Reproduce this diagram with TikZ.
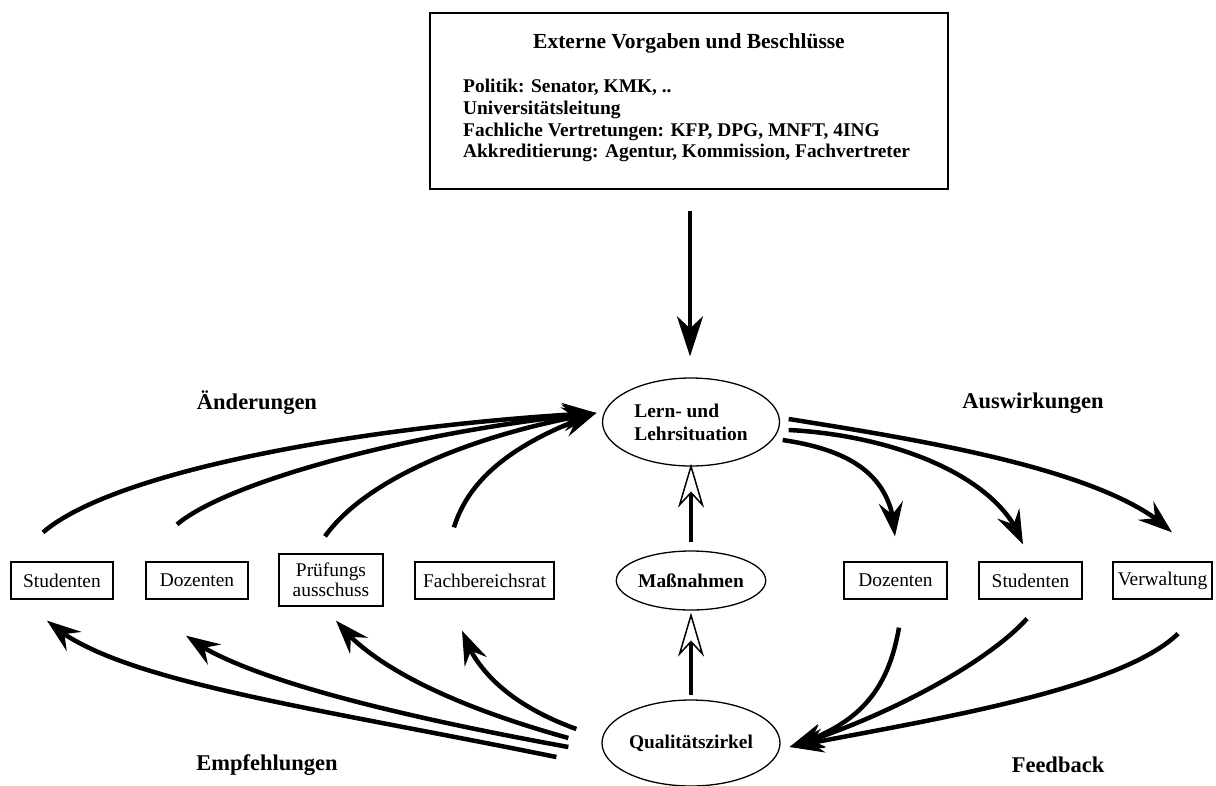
\documentclass[tikz,border=0pt]{standalone}
\usepackage{fontspec}
\setmainfont{Liberation Serif}
\usetikzlibrary{arrows.meta,shapes.geometric,bending}
\begin{document}
\begin{tikzpicture}[x=1pt,y=-1pt,
  box/.style={draw, line width=1.3pt, rectangle, minimum height=37pt, inner sep=2pt,
    font=\fontsize{19.4}{20}\selectfont, align=center},
  ell/.style={draw, line width=1.3pt, ellipse, inner sep=0pt,
    font=\bfseries\fontsize{19.4}{23}\selectfont, align=left},
  lab/.style={font=\bfseries\fontsize{22.5}{26}\selectfont},
  listline/.style={anchor=base west, inner sep=0pt, font=\bfseries\fontsize{19.4}{22}\selectfont},
  conn/.style={line width=4.5pt, -{Stealth[length=34pt,width=24pt,inset=12pt]}},
  hollow/.style={line width=4.5pt, -{Stealth[open,fill=white,length=44pt,width=26pt,inset=14pt,line width=1.5pt]}},
]
\useasboundingbox (0,0) rectangle (1216,785);

% top box
\node[draw, line width=1.4pt, minimum width=518pt, minimum height=176pt, inner sep=0pt] (ext) at (689,101) {};
\node[anchor=base, inner sep=0pt, font=\bfseries\fontsize{21.5}{24}\selectfont] (title) at (689,48) {Externe Vorgaben und Beschlüsse};
\node[listline] (l1) at (463,92) {Politik: Senator, KMK, ..};
\node[listline] (l2) at (463,114) {Universitätsleitung};
\node[listline] (l3) at (463,136) {Fachliche Vertretungen: KFP, DPG, MNFT, 4ING};
\node[listline] (l4) at (463,157) {Akkreditierung: Agentur, Kommission, Fachvertreter};

% ellipses
\node[ell, minimum width=177pt, minimum height=88pt] (lern) at (691,422) {Lern- und\\Lehrsituation};
\node[ell, minimum width=148pt, minimum height=59pt] (mass) at (691,580.5) {Maßnahmen};
\node[ell, minimum width=178pt, minimum height=86pt] (qz) at (691,743) {Qualitätszirkel};

% boxes left
\node[box, minimum width=102pt] (sL) at (62,580.5) {Studenten};
\node[box, minimum width=102pt] (dL) at (197,580.5) {Dozenten};
\node[box, minimum width=104pt, minimum height=52pt] (pL) at (331,580) {Prüfungs\\ausschuss};
\node[box, minimum width=139pt] (fL) at (484.5,580.5) {Fachbereichsrat};
% boxes right
\node[box, minimum width=103pt] (dR) at (895.5,580.5) {Dozenten};
\node[box, minimum width=103pt] (sR) at (1030.5,580.5) {Studenten};
\node[box, minimum width=99pt] (vR) at (1162.5,580.5) {Verwaltung};

% labels
\node[lab] (aend) at (257,403) {Änderungen};
\node[lab] (ausw) at (1033,403) {Auswirkungen};
\node[lab] (empf) at (267,765) {Empfehlungen};
\node[lab] (feed) at (1058,765) {Feedback};

% down arrow
\draw[line width=4.5pt, -{Stealth[length=40pt,width=26pt,inset=12pt]}]
  ([shift={(1,21)}]ext.south) -- ([shift={(-1,-21)}]lern.north);

% hollow arrows
\draw[hollow] ([shift={(0,-8)}]mass.north) -- ([shift={(0,-3)}]lern.south);
\draw[hollow] ([shift={(0,-4)}]qz.north) -- ([shift={(0,2)}]mass.south);

% Aenderungen
\draw[conn] ([shift={(-19,-29)}]sL.north) .. controls (115,470) and (370,425) .. ([shift={(-5.5,-9)}]lern.west);
\draw[conn] ([shift={(-20,-37)}]dL.north) .. controls (230,480) and (420,430) .. ([shift={(-5.5,-9)}]lern.west);
\draw[conn] ([shift={(-6,-17)}]pL.north) .. controls (365,480) and (470,435) .. ([shift={(-5.5,-9)}]lern.west);
\draw[conn] ([shift={(-30.5,-34)}]fL.north) .. controls (470,475) and (520,440) .. ([shift={(-5.5,-9)}]lern.west);

% Auswirkungen
\draw[conn] ([shift={(8.5,-3)}]lern.east) .. controls (920,440) and (1110,470) .. ([shift={(9.5,-29)}]vR.north);
\draw[conn] ([shift={(8.5,8)}]lern.east) .. controls (890,435) and (1000,475) .. ([shift={(-7.5,-17)}]sR.north);
\draw[conn] ([shift={(2.5,18)}]lern.east) .. controls (850,450) and (893,475) .. ([shift={(-0.5,-25)}]dR.north);

% Empfehlungen
\draw[conn] ([shift={(-45,14)}]qz.west) .. controls (300,705) and (110,680) .. ([shift={(-15,21)}]sL.south);
\draw[conn] ([shift={(-33,4)}]qz.west) .. controls (420,720) and (240,680) .. ([shift={(-11,36)}]dL.south);
\draw[conn] ([shift={(-33,-5)}]qz.west) .. controls (450,705) and (370,665) .. ([shift={(5,14)}]pL.south);
\draw[conn] ([shift={(-25,-14)}]qz.west) .. controls (510,705) and (475,670) .. ([shift={(-22.5,31)}]fL.south);

% Feedback
\draw[conn] ([shift={(3.5,28)}]dR.south) .. controls (888,690) and (860,725) .. ([shift={(9,4)}]qz.east);
\draw[conn] ([shift={(-3.5,19)}]sR.south) .. controls (985,665) and (880,720) .. ([shift={(9,4)}]qz.east);
\draw[conn] ([shift={(15.5,34)}]vR.south) .. controls (1120,690) and (930,720) .. ([shift={(9,4)}]qz.east);
\end{tikzpicture}
\end{document}
